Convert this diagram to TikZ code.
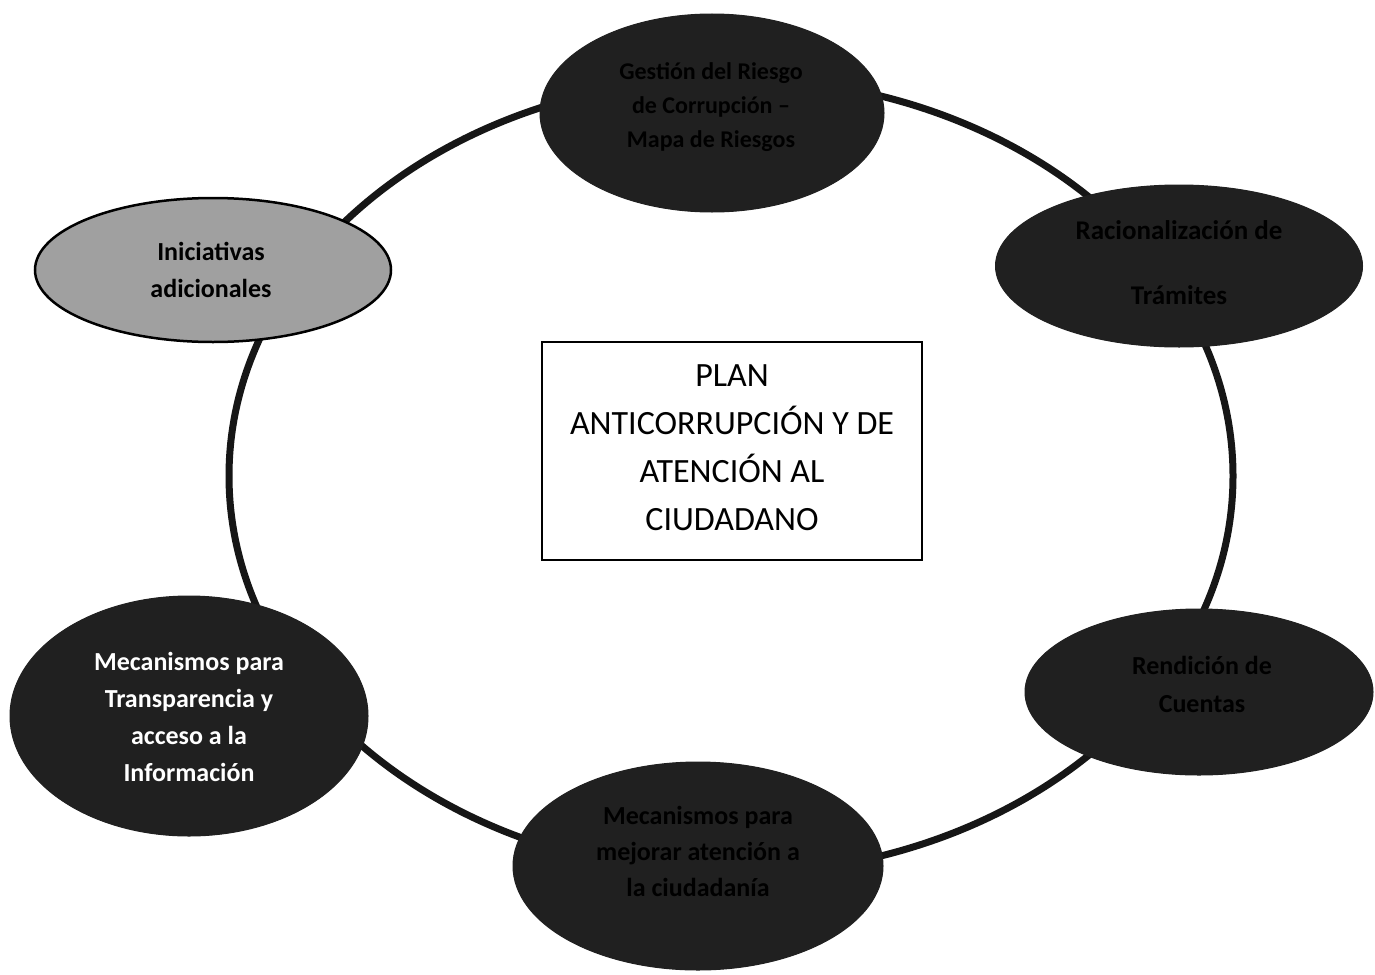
\documentclass[tikz,border=0pt]{standalone}
\usepackage{fontspec}
\setmainfont{Carlito}
\usetikzlibrary{shapes.geometric}
\definecolor{darkfill}{RGB}{32,32,32}
\definecolor{grayfill}{RGB}{160,160,160}
\definecolor{ringcol}{RGB}{22,22,22}
\tikzset{
  oval/.style={ellipse, inner sep=0pt, fill=darkfill, draw=darkfill, line width=1pt},
  grayoval/.style={ellipse, inner sep=0pt, fill=grayfill, draw=black, line width=2.5pt},
  ovaltext/.style={font=\bfseries\fontsize{27}{37}\selectfont, align=center, text=black, inner sep=0pt},
  whitetext/.style={ovaltext, text=white},
  blacktext/.style={ovaltext, text=black},
  ring/.style={draw=ringcol, line width=7pt},
  titlebox/.style={draw=black, line width=1.5pt, minimum width=380pt, minimum height=218pt, inner sep=0pt}
}
\begin{document}
\begin{tikzpicture}[x=1pt,y=-1pt]
\useasboundingbox[fill=white] (0,0) rectangle (1375,974);
% big ring
\coordinate (ringc) at (731,476);
\draw[ring] (ringc) ellipse [x radius=502, y radius=398];
% ellipses
\node[oval, minimum width=344pt, minimum height=198pt] (gest) at (712,113) {};
\node[oval, minimum width=367pt, minimum height=162pt] (raci) at (1179,266) {};
\node[oval, minimum width=348pt, minimum height=166pt] (rend) at (1199,692) {};
\node[oval, minimum width=370pt, minimum height=208pt] (mejo) at (698,866) {};
\node[oval, minimum width=358pt, minimum height=240pt] (tran) at (189,716) {};
\node[grayoval, minimum width=356pt, minimum height=144pt] (inic) at (213,270) {};
% texts
\node[ovaltext, font=\bfseries\fontsize{24}{34}\selectfont] (tgest) at (711,107) {Gestión del Riesgo\\de Corrupción –\\Mapa de Riesgos};
\node[ovaltext, font=\bfseries\fontsize{27}{65}\selectfont] (traci) at (1179,263) {Racionalización de\\Trámites};
\node[ovaltext, font=\bfseries\fontsize{26}{38}\selectfont] (trend) at (1202,684) {Rendición de\\Cuentas};
\node[ovaltext, font=\bfseries\fontsize{26}{36}\selectfont] (tmejo) at (698,851) {Mecanismos para\\mejorar atención a\\la ciudadanía};
\node[whitetext, font=\bfseries\fontsize{26}{37}\selectfont] (ttran) at (189,717) {Mecanismos para\\Transparencia y\\acceso a la\\Información};
\node[blacktext, font=\bfseries\fontsize{26}{37}\selectfont] (tinic) at (211,270) {Iniciativas\\adicionales};
% center box
\node[titlebox, fill=white] (plan) at (732,451) {};
\node[align=center, inner sep=0pt, font=\fontsize{34}{48}\selectfont] (tplan) at (732,448) {PLAN\\ANTICORRUPCIÓN Y DE\\ATENCIÓN AL\\CIUDADANO};
\end{tikzpicture}
\end{document}
